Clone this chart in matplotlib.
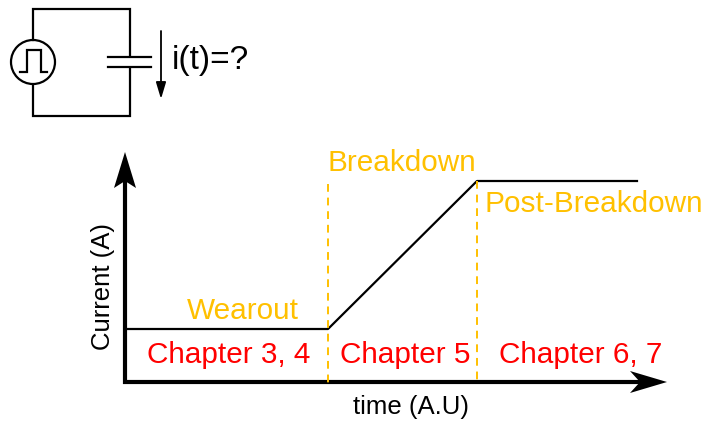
import matplotlib
matplotlib.use('Agg')
import matplotlib.pyplot as plt
from matplotlib.patches import Circle, Polygon

plt.rcParams['font.family'] = ['Liberation Sans', 'DejaVu Sans']

# current trace, in image pixels
time_pts = [126, 328, 477, 637]
current_pts = [329, 329, 181, 181]
dash_x = [328, 477]
dash_top = [184, 181]
dash_bottom = 383

chapters = ['Chapter 3, 4', 'Chapter 5', 'Chapter 6, 7']
chapter_x = [229, 405, 581]
phases = ['Wearout', 'Breakdown', 'Post-Breakdown']
phase_x = [243, 402, 594]
phase_y = [311, 163, 204]

red = '#ff0000'
amber = '#ffc000'

fig = plt.figure(figsize=(7.04, 4.21), dpi=100)
ax = fig.add_axes([0, 0, 1, 1])
ax.set_xlim(0, 704)
ax.set_ylim(421, 0)
ax.axis('off')

# circuit
ax.plot([33, 33, 130, 130], [40, 9, 9, 56], color='k', lw=1.6, solid_joinstyle='miter')
ax.plot([33, 33, 130, 130], [85, 116, 116, 68], color='k', lw=1.6, solid_joinstyle='miter')
ax.plot([108, 151], [57, 57], color='k', lw=1.6)
ax.plot([108, 151], [67, 67], color='k', lw=1.6)
ax.add_patch(Circle((33, 62), 22, fc='none', ec='k', lw=1.6))
ax.plot([20, 27, 27, 41, 41, 47], [72, 72, 50, 50, 72, 72], color='k', lw=1.6,
        solid_joinstyle='miter')
ax.annotate('', xy=(161, 99), xytext=(161, 31),
            arrowprops=dict(arrowstyle='-|>,head_width=0.3,head_length=1.0', color='k', lw=1.3,
                            shrinkA=0, shrinkB=0, mutation_scale=10))
ax.text(172, 61, 'i(t)=?', fontsize=24, ha='left', va='center')

# axes arrows with notched heads
ax.plot([125, 125], [384, 180], color='k', lw=3, solid_capstyle='butt')
ax.plot([123, 645], [382, 382], color='k', lw=3, solid_capstyle='butt')
ax.add_patch(Polygon([(125, 152), (136, 188), (125, 181), (114, 188)], fc='k', ec='none'))
ax.add_patch(Polygon([(667, 382), (630, 371), (640, 382), (630, 393)], fc='k', ec='none'))

# trace and phase boundaries
ax.plot(time_pts, current_pts, color='k', lw=1.6)
for x, top in zip(dash_x, dash_top):
    ax.plot([x, x], [top, dash_bottom], color=amber, lw=1.4, ls=(0, (4, 3)))

for name, x in zip(chapters, chapter_x):
    ax.text(x, 355, name, color=red, fontsize=21.4, ha='center', va='center')
for name, x, y in zip(phases, phase_x, phase_y):
    ax.text(x, y, name, color=amber, fontsize=21.4, ha='center', va='center')

ax.text(411, 407, 'time (A.U)', fontsize=18.5, ha='center', va='center')
ax.text(103, 286, 'Current (A)', fontsize=18.5, rotation=90, ha='center', va='center')

fig.savefig('out.png', dpi=100)
